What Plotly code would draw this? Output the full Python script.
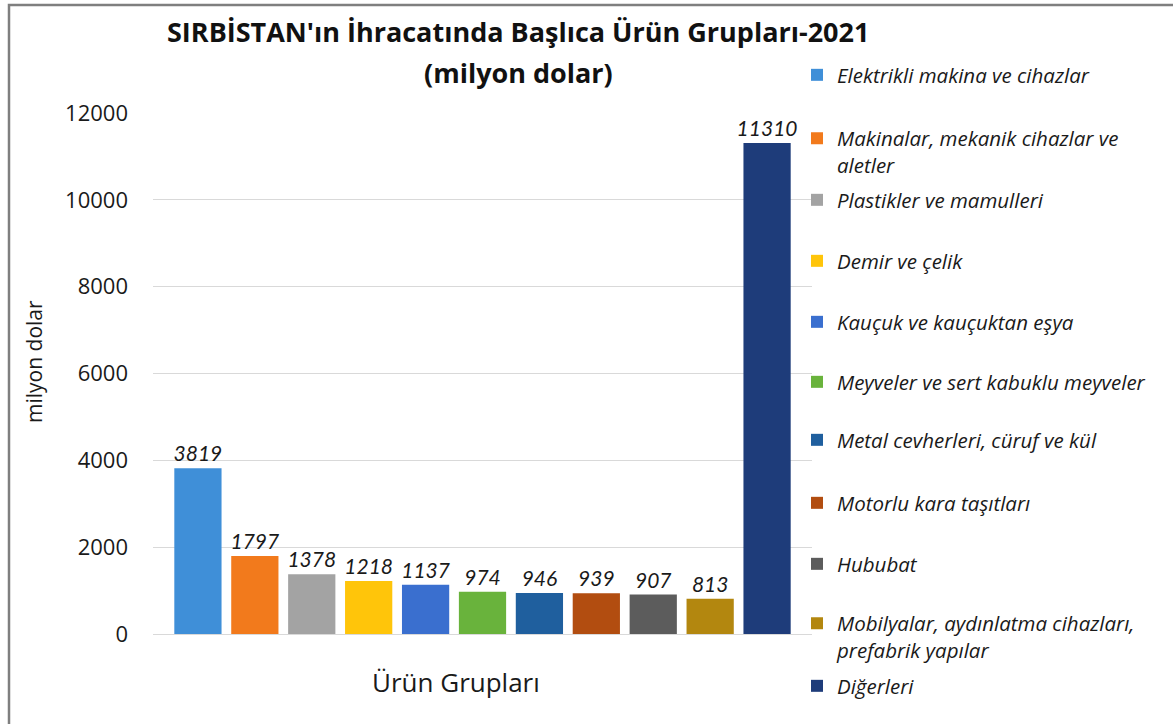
import plotly.graph_objects as go

categories = [
    "Elektrikli makina ve cihazlar",
    "Makinalar, mekanik cihazlar ve<br>aletler",
    "Plastikler ve mamulleri",
    "Demir ve çelik",
    "Kauçuk ve kauçuktan eşya",
    "Meyveler ve sert kabuklu meyveler",
    "Metal cevherleri, cüruf ve kül",
    "Motorlu kara taşıtları",
    "Hububat",
    "Mobilyalar, aydınlatma cihazları,<br>prefabrik yapılar",
    "Diğerleri",
]
values = [3819, 1797, 1378, 1218, 1137, 974, 946, 939, 907, 813, 11310]
colors = ["#3f8fd8", "#f27a1c", "#a3a3a3", "#ffc50a", "#3a6fcf", "#69b33c",
          "#1f5f9e", "#b24d10", "#5c5c5c", "#b3870f", "#1e3c7a"]
y_ticks = [0, 2000, 4000, 6000, 8000, 10000, 12000]
group_label = "Ürün Grupları"
title_line1 = "SIRBİSTAN'ın İhracatında Başlıca Ürün Grupları-2021"
title_line2 = "(milyon dolar)"

# legend vertical centres (pixels) -> converted to paper coords
legend_py = [75, 152, 200, 261, 322, 382, 440, 503, 564, 637, 686]

W, H = 1173, 724
L, R, T, B = 153, 361, 113, 90
PW, PH = W - L - R, H - T - B

def px2x(px):
    return (px - L) / PW

def py2y(py):
    return (H - B - py) / PH

FONT = "Open Sans"

fig = go.Figure()
layout_legends = {}
for i, (name, v, c) in enumerate(zip(categories, values, colors)):
    lg = "legend" if i == 0 else f"legend{i+1}"
    fig.add_trace(go.Bar(
        x=[group_label], y=[v], name=name, marker=dict(color=c, line=dict(width=0)),
        text=[str(v)], textposition="outside", cliponaxis=False, constraintext="none",
        textfont=dict(family="Lato", size=21, color="#1a1a1a", style="italic"),
        legend=lg,
    ))
    layout_legends[lg] = dict(
        x=px2x(797), xanchor="left", y=py2y(legend_py[i]), yanchor="middle",
        font=dict(family=FONT, size=20.5, color="#1a1a1a", style="italic"),
        bgcolor="rgba(0,0,0,0)", valign="top", itemwidth=30,
    )

fig.update_layout(
    width=W, height=H,
    margin=dict(l=L, r=R, t=T, b=B, autoexpand=False),
    paper_bgcolor="white", plot_bgcolor="white",
    barmode="group", bargap=0.05, bargroupgap=0.17,
    showlegend=True,
    font=dict(family=FONT, color="#1a1a1a"),
    xaxis=dict(showticklabels=False, showgrid=False, zeroline=False, showline=False),
    yaxis=dict(
        range=[0, 12000], tickvals=y_ticks, ticktext=[str(t) for t in y_ticks],
        showgrid=True, gridcolor="#d9d9d9", gridwidth=1.2,
        zeroline=True, zerolinecolor="#d9d9d9", zerolinewidth=1.2,
        showline=False, ticks="", ticklabelstandoff=24,
        tickfont=dict(family=FONT, size=22, color="#1a1a1a"),
    ),
    **layout_legends,
)

# titles placed as annotations
fig.add_annotation(text=title_line1, xref="paper", yref="paper", x=px2x(518), y=py2y(32),
                   xanchor="center", yanchor="middle", showarrow=False,
                   font=dict(family=FONT, size=27, color="#111111", weight="bold"))
fig.add_annotation(text=title_line2, xref="paper", yref="paper", x=px2x(518), y=py2y(72),
                   xanchor="center", yanchor="middle", showarrow=False,
                   font=dict(family=FONT, size=27, color="#111111", weight="bold"))
fig.add_annotation(text="milyon dolar", xref="paper", yref="paper", x=px2x(34), y=py2y(362),
                   xanchor="center", yanchor="middle", showarrow=False, textangle=-90,
                   font=dict(family=FONT, size=21, color="#1a1a1a"))
fig.add_annotation(text=group_label, xref="paper", yref="paper", x=px2x(456), y=py2y(682),
                   xanchor="center", yanchor="middle", showarrow=False,
                   font=dict(family=FONT, size=26, color="#1a1a1a"))

fig.add_shape(
    type="rect", xref="paper", yref="paper",
    x0=px2x(9), x1=px2x(1200), y0=py2y(760), y1=py2y(5),
    line=dict(color="#7f7f7f", width=2.5), fillcolor="rgba(0,0,0,0)", layer="below",
)

fig.write_html("out.html", config={"displayModeBar": False},
               post_script="document.body.style.margin='0';document.body.style.padding='0';")
